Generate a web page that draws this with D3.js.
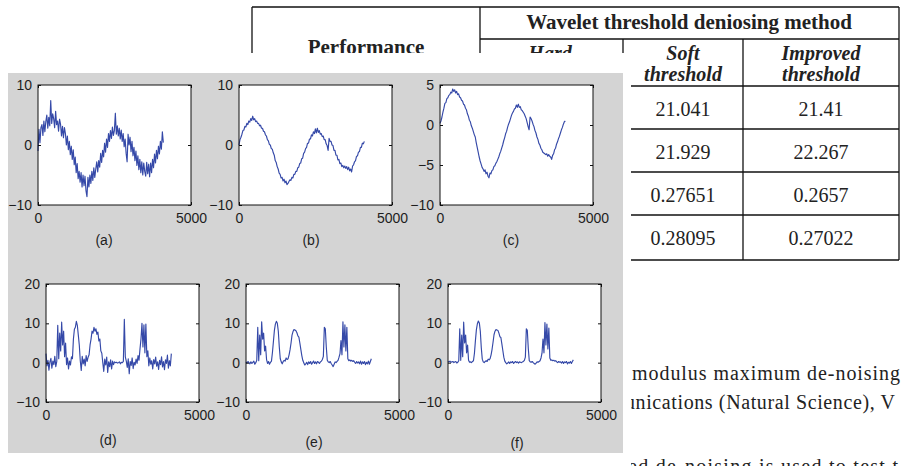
<!DOCTYPE html>
<html>
<head>
<meta charset="utf-8">
<script src="https://cdn.jsdelivr.net/npm/d3@7"></script>
<style>
  body { margin: 0; background: #fff; }
  svg { display: block; }
</style>
</head>
<body>
<div id="chart"></div>
<script>
// samples are 32 points apart (4096 points in the original signals)
var sampleStep = 32;

// (a) noisy sine-like signal
var noisySine = [-1.0, 2.6, 0.4, 2.9, 3.4, 1.6, 4.0, 2.2, 3.9, 5.0, 2.8, 4.6, 3.2, 7.4, 3.6, 5.2,
  4.4, 2.9, 5.6, 3.4, 4.0, 2.3, 4.3, 3.5, 1.5, 3.1, 1.2, 2.9, 1.9, 0.0, 1.5, -0.8,
  0.6, -1.6, -0.2, -2.4, -0.8, -3.3, -2.0, -4.6, -3.1, -5.6, -4.4, -6.2, -4.6, -7.0, -5.0, -6.8,
  -5.2, -7.6, -8.6, -5.4, -7.0, -5.0, -6.4, -4.4, -5.9, -3.8, -5.4, -4.0, -2.8, -4.5, -2.6, -3.7,
  -1.4, -2.9, -0.9, -2.0, 0.3, -1.2, 1.0, -0.4, 1.9, 0.6, 2.4, 1.1, 3.0, 1.6, 2.4, 5.3,
  1.8, 3.2, 1.5, 2.8, 1.0, 2.5, 0.6, 1.9, -0.3, 1.0, -1.4, -2.8, 1.8, 0.0, 1.3, -1.1,
  0.6, -1.8, -0.4, -2.6, -1.0, -3.4, -1.8, -4.1, -2.4, -4.6, -2.8, -5.0, -3.0, -4.4, -5.2, -2.9,
  -4.8, -3.2, -5.3, -3.0, -4.6, -2.4, -3.8, -1.5, -3.0, -0.9, -2.3, -0.2, -1.5, 0.6, -0.7, 2.2, 0.4];

// (b) hard threshold
var hardSine = [0.0, 0.9, 1.3, 1.8, 2.4, 2.5, 3.1, 3.0, 3.6, 3.4, 4.0, 3.8, 4.4, 4.1, 4.8, 4.2,
  4.4, 3.9, 4.0, 3.6, 3.6, 3.2, 3.3, 2.8, 2.8, 2.3, 2.2, 1.7, 1.5, 0.9, 0.7, 0.1,
  0.0, -0.6, -0.7, -1.3, -1.7, -2.6, -2.9, -3.6, -4.0, -4.7, -4.9, -5.5, -5.4, -6.0, -5.7, -6.3,
  -6.0, -6.6, -6.4, -6.1, -5.8, -5.9, -5.4, -5.5, -4.9, -4.9, -4.4, -4.4, -3.8, -3.7, -3.1, -3.0,
  -2.3, -2.2, -1.4, -1.2, -0.6, -0.4, 0.3, 0.3, 1.0, 1.0, 1.7, 1.5, 2.2, 1.9, 2.7, 2.0,
  2.8, 2.1, 2.4, 1.8, 1.9, 1.4, 1.5, 0.9, 0.9, 0.2, -0.1, -0.9, 1.1, 0.6, 0.6, 0.0,
  -0.1, -0.9, -0.9, -1.7, -1.7, -2.5, -2.4, -3.1, -3.0, -3.6, -3.4, -3.8, -3.5, -3.9, -3.6, -4.1,
  -3.7, -4.3, -4.0, -4.5, -3.5, -3.3, -2.8, -2.6, -1.9, -1.8, -1.2, -1.1, -0.4, -0.4, 0.3, 0.2, 0.6];

// (c) improved threshold
var improvedSine = [0.2, 0.5, 1.0, 1.6, 2.1, 2.7, 2.8, 3.3, 3.4, 3.7, 3.8, 4.1, 4.0, 4.5, 4.2, 4.4,
  4.0, 4.2, 3.8, 3.9, 3.5, 3.4, 3.1, 3.0, 2.6, 2.5, 2.1, 1.9, 1.4, 1.1, 0.6, 0.4,
  -0.1, -0.4, -0.8, -1.2, -1.5, -2.2, -2.8, -3.4, -4.0, -4.5, -4.9, -5.3, -5.5, -5.8, -5.6, -6.1,
  -5.9, -6.4, -6.6, -6.0, -6.1, -5.7, -5.6, -5.2, -5.1, -4.8, -4.6, -4.3, -4.0, -3.6, -3.3, -2.9,
  -2.5, -2.0, -1.6, -1.1, -0.8, -0.3, 0.1, 0.4, 0.8, 1.2, 1.5, 1.7, 2.0, 2.1, 2.5, 2.2,
  2.6, 2.2, 2.3, 1.9, 1.8, 1.6, 1.4, 1.1, 0.8, 0.3, -0.2, -0.6, 1.0, 0.8, 0.5, 0.1,
  -0.2, -0.7, -1.0, -1.5, -1.8, -2.3, -2.5, -2.9, -3.1, -3.4, -3.5, -3.6, -3.7, -3.6, -3.9, -3.7,
  -3.9, -4.0, -4.3, -3.8, -3.6, -3.1, -2.9, -2.4, -2.1, -1.7, -1.4, -1.0, -0.6, -0.3, 0.1, 0.4, 0.5];

// (d) noisy block signal
var noisyBlocks = [2.3, -0.8, 0.6, -1.9, 0.2, 1.1, -1.4, 0.4, -0.5, 1.6, -1.0, 0.3, 9.5, 1.0, 7.5, 3.0,
  10.3, 4.5, 8.0, 1.5, 5.0, -0.5, 1.2, -1.6, 0.4, -0.6, 1.5, 1.0, 6.0, 8.5, 9.0, 10.5,
  9.5, 7.0, 4.5, 0.5, -2.0, 1.6, -0.3, 0.9, -0.8, 1.8, 0.3, 1.4, 2.0, 4.5, 6.0, 8.0,
  7.5, 9.0, 8.0, 8.6, 7.2, 7.8, 5.5, 6.0, 3.0, 2.4, 0.0, -2.2, 0.9, -0.6, 1.4, -2.5,
  0.2, -1.0, 0.7, -1.6, 0.4, -0.5, 0.2, 0.0, 0.1, -0.1, 0.0, 0.2, -0.3, 0.1, 0.0, 0.3,
  11.0, 1.5, 0.4, -1.2, 1.0, -2.8, 0.3, -0.7, 1.2, -1.5, 0.1, -0.6, 0.9, -0.2, 1.8, 0.6,
  3.5, 6.0, 10.0, 4.0, 9.6, 2.5, 9.8, 1.5, 3.0, -0.8, 1.2, -0.4, 0.5, -1.6, 0.8, -0.3,
  1.4, -0.9, 0.2, -1.7, 0.6, -0.5, 1.5, -1.1, 0.3, -1.8, 0.7, -0.2, 1.9, -1.4, 0.5, -0.8, 2.3];

// (e) hard threshold
var hardBlocks = [0.2, -0.1, 0.3, 0.0, -0.3, 0.2, -0.2, 0.1, 0.4, -0.4, 0.0, 0.6, 9.0, 0.5, 7.0, 2.0,
  10.4, 6.0, 7.5, 3.0, 4.2, 0.8, -0.2, 0.3, -0.4, 0.1, 0.4, 2.6, 5.4, 8.2, 9.8, 10.5,
  10.0, 8.0, 4.0, 1.0, 0.2, -0.3, 0.3, 0.6, 0.4, 1.2, 0.8, 1.0, 2.0, 3.3, 5.0, 7.0,
  7.9, 8.4, 8.3, 8.1, 7.6, 6.8, 6.5, 5.0, 3.4, 1.8, 0.6, 0.0, -0.6, -0.3, 0.1, -0.5,
  0.2, -0.2, 0.3, -0.4, 0.0, 0.4, -0.2, 0.2, -0.3, 0.3, 0.1, -0.2, 0.2, 0.4, 0.8, 1.6,
  9.0, 8.6, 4.0, 0.6, 0.2, 0.0, 0.3, -0.2, -0.6, -1.0, -0.4, 0.2, 0.0, 0.3, 0.6, 1.4,
  2.3, 5.6, 2.0, 10.4, 4.0, 9.6, 3.0, 9.0, 1.0, 0.5, 0.7, 0.4, 0.6, 0.3, 0.5, 0.1,
  -0.2, 0.3, -0.1, 0.2, -0.3, 0.4, -0.4, 0.2, -0.2, 0.3, -0.5, 0.1, -0.3, 0.4, -0.4, 0.3, 1.0];

// (f) improved threshold
var improvedBlocks = [0.3, 0.2, 0.4, 0.1, 0.2, 0.3, 0.0, 0.2, 0.3, -0.1, 0.1, 0.5, 8.6, 0.6, 7.0, 1.5,
  10.3, 5.0, 7.0, 2.5, 4.5, 0.6, 0.1, 0.2, 0.0, 0.3, 0.5, 2.4, 5.6, 8.4, 9.9, 10.6,
  10.1, 8.0, 3.8, 0.9, 0.2, 0.0, 0.3, 0.5, 0.3, 0.9, 0.7, 1.0, 2.0, 3.4, 5.2, 7.1,
  8.0, 8.4, 8.3, 8.2, 7.5, 6.6, 6.4, 4.8, 3.1, 1.4, 0.4, 0.0, -0.3, -0.1, 0.2, -0.2,
  0.2, 0.0, 0.3, -0.2, 0.1, 0.3, 0.0, 0.2, -0.1, 0.2, 0.1, 0.0, 0.2, 0.3, 0.6, 1.4,
  8.6, 8.2, 3.6, 0.5, 0.2, 0.1, 0.3, 0.0, -0.2, -0.4, -0.1, 0.2, 0.1, 0.3, 0.5, 1.2,
  2.4, 6.0, 2.5, 10.2, 4.5, 9.8, 3.5, 8.8, 1.2, 0.6, 0.7, 0.5, 0.6, 0.4, 0.5, 0.2,
  0.0, 0.3, 0.1, 0.2, -0.1, 0.3, -0.2, 0.2, 0.0, 0.3, -0.3, 0.1, -0.1, 0.3, -0.2, 0.3, 0.7];

var xTicks = [0, 5000];
var sineTicks = [-10, 0, 10];
var improvedSineTicks = [-10, -5, 0, 5];
var blockTicks = [-10, 0, 10, 20];
var panelLabels = ['(a)', '(b)', '(c)', '(d)', '(e)', '(f)'];

// table of the paper page behind the figure
var tableTitle = 'Wavelet threshold deniosing method';
var softValues = ['21.041', '21.929', '0.27651', '0.28095'];
var improvedValues = ['21.41', '22.267', '0.2657', '0.27022'];
var pageLines = ['modulus maximum de-noising', 'unications (Natural Science), V', 'ed de-noising is used to test t'];

var width = 901;
var height = 466;
var lineColor = '#3549a8';

var svg = d3.select('#chart').append('svg')
  .attr('width', width)
  .attr('height', height);

// ---- paper table (partly hidden by the figure) ----
var page = svg.append('g')
  .attr('font-family', '"Liberation Serif", "Times New Roman", serif')
  .attr('fill', '#222');

var rowEdges = [86, 129, 172, 215, 260];
var hLines = [[252, 899, 7], [480, 899, 39]].concat(rowEdges.map(function(y){ return [252, 899, y]; }));
var vLines = [[252, 7, 260], [480, 7, 260], [623, 39, 260], [743, 39, 260], [899, 7, 260]];

page.selectAll('line.h').data(hLines).enter().append('line')
  .attr('x1', function(d){ return d[0]; }).attr('x2', function(d){ return d[1]; })
  .attr('y1', function(d){ return d[2]; }).attr('y2', function(d){ return d[2]; })
  .attr('stroke', '#111').attr('stroke-width', 1.3);
page.selectAll('line.v').data(vLines).enter().append('line')
  .attr('x1', function(d){ return d[0]; }).attr('x2', function(d){ return d[0]; })
  .attr('y1', function(d){ return d[1]; }).attr('y2', function(d){ return d[2]; })
  .attr('stroke', '#111').attr('stroke-width', 1.3);

page.append('text').attr('x', 689).attr('y', 29).attr('text-anchor', 'middle')
  .attr('font-weight', 'bold').attr('font-size', 21).text(tableTitle);
page.append('text').attr('x', 366).attr('y', 54).attr('text-anchor', 'middle')
  .attr('font-weight', 'bold').attr('font-size', 21).text('Performance');

var subHeads = [{x: 550, lines: ['Hard', 'threshold']}, {x: 683, lines: ['Soft', 'threshold']}, {x: 821, lines: ['Improved', 'threshold']}];
subHeads.forEach(function(h){
  h.lines.forEach(function(t, i){
    page.append('text').attr('x', h.x).attr('y', 60 + i * 21).attr('text-anchor', 'middle')
      .attr('font-weight', 'bold').attr('font-style', 'italic').attr('font-size', 20).text(t);
  });
});

[softValues, improvedValues].forEach(function(col, c){
  page.selectAll(null).data(col).enter().append('text')
    .attr('x', c === 0 ? 683 : 821)
    .attr('y', function(d, i){ return rowEdges[i] + 30; })
    .attr('text-anchor', 'middle')
    .attr('font-size', 20)
    .text(function(d){ return d; });
});

page.append('text').attr('x', 632).attr('y', 380).attr('font-size', 20)
  .attr('textLength', 268).attr('lengthAdjust', 'spacing').text(pageLines[0]);
page.append('text').attr('x', 625).attr('y', 409).attr('font-size', 20)
  .attr('textLength', 270).attr('lengthAdjust', 'spacing').text(pageLines[1]);
page.append('text').attr('x', 628).attr('y', 473).attr('font-size', 20)
  .attr('textLength', 270).attr('lengthAdjust', 'spacing').text(pageLines[2]);

// ---- MATLAB figure pasted over the page ----
svg.append('rect').attr('x', 0).attr('y', 53).attr('width', 631).attr('height', height - 53).attr('fill', '#fff');
svg.append('rect').attr('x', 8).attr('y', 73).attr('width', 615).attr('height', 380).attr('fill', '#d4d4d4');

var panels = [
  {values: noisySine, domain: [-10, 10], ticks: sineTicks, left: 38, top: 85, h: 120, lx: 104, ly: 245},
  {values: hardSine, domain: [-10, 10], ticks: sineTicks, left: 239, top: 85, h: 120, lx: 311, ly: 245},
  {values: improvedSine, domain: [-10, 5], ticks: improvedSineTicks, left: 440, top: 85, h: 120, lx: 511, ly: 245},
  {values: noisyBlocks, domain: [-10, 20], ticks: blockTicks, left: 46, top: 284, h: 118, lx: 108, ly: 445},
  {values: hardBlocks, domain: [-10, 20], ticks: blockTicks, left: 246, top: 284, h: 118, lx: 314, ly: 447},
  {values: improvedBlocks, domain: [-10, 20], ticks: blockTicks, left: 448, top: 284, h: 118, lx: 517, ly: 448}
];

panels.forEach(function(p, k){
  var w = 153;
  var x = d3.scaleLinear().domain([0, 5000]).range([0, w]);
  var y = d3.scaleLinear().domain(p.domain).range([p.h, 0]);

  var g = svg.append('g').attr('transform', 'translate(' + p.left + ',' + p.top + ')');

  g.append('rect').attr('width', w).attr('height', p.h).attr('fill', '#fff');

  var line = d3.line()
    .x(function(d, i){ return x(i * sampleStep); })
    .y(function(d){ return y(d); });

  g.append('path')
    .datum(p.values)
    .attr('d', line)
    .attr('fill', 'none')
    .attr('stroke', lineColor)
    .attr('stroke-width', 1.15)
    .attr('stroke-linejoin', 'round');

  // ticks point inwards on all four sides, labels only left and bottom
  var axes = [
    {ax: d3.axisLeft(y).tickValues(p.ticks), t: 'translate(0,0)', labels: true, pad: 6},
    {ax: d3.axisRight(y).tickValues(p.ticks), t: 'translate(' + w + ',0)', labels: false, pad: 6},
    {ax: d3.axisBottom(x).tickValues(xTicks), t: 'translate(0,' + p.h + ')', labels: true, pad: 8},
    {ax: d3.axisTop(x).tickValues(xTicks), t: 'translate(0,0)', labels: false, pad: 6}
  ];
  axes.forEach(function(a){
    a.ax.tickSizeInner(-3).tickSizeOuter(0).tickPadding(a.pad)
      .tickFormat(a.labels ? d3.format('d') : '');
    var ag = g.append('g').attr('transform', a.t).call(a.ax);
    ag.select('.domain').remove();
    ag.selectAll('line').attr('stroke', '#111');
    ag.selectAll('text')
      .attr('fill', '#1e1e1e')
      .style('font-family', '"Liberation Sans", Arial, sans-serif')
      .style('font-size', '14px');
  });

  g.append('rect').attr('width', w).attr('height', p.h)
    .attr('fill', 'none').attr('stroke', '#111').attr('stroke-width', 1);

  svg.append('text')
    .attr('x', p.lx).attr('y', p.ly)
    .attr('text-anchor', 'middle')
    .attr('font-family', '"Liberation Sans", Arial, sans-serif')
    .attr('font-size', 14)
    .attr('fill', '#1e1e1e')
    .text(panelLabels[k]);
});
</script>
</body>
</html>
